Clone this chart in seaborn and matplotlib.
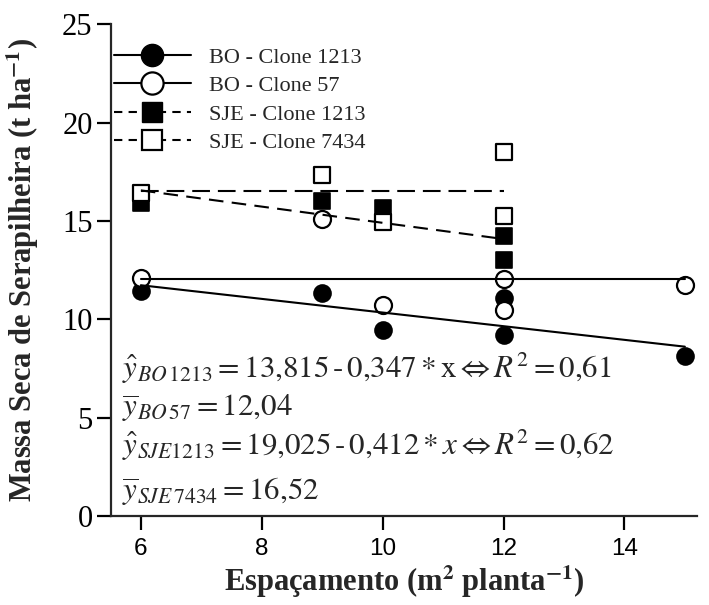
import numpy as np
import matplotlib
matplotlib.use("Agg")
import matplotlib.pyplot as plt
import seaborn as sns
from matplotlib.lines import Line2D

# Litter dry mass (t/ha) by plant spacing (m2/plant), per site and clone
spacing_bo1213 = [6, 9, 10, 12, 12, 15]
mass_bo1213 = [11.45, 11.32, 9.45, 11.07, 9.20, 8.15]

spacing_bo57 = [6, 9, 10, 12, 12, 15]
mass_bo57 = [12.08, 15.08, 10.73, 12.05, 10.47, 11.75]

spacing_sje1213 = [6, 9, 10, 12, 12]
mass_sje1213 = [15.90, 16.03, 15.64, 14.23, 13.01]

spacing_sje7434 = [6, 9, 10, 12, 12]
mass_sje7434 = [16.40, 17.34, 14.96, 18.50, 15.27]

# Fitted models
bo1213_intercept, bo1213_slope = 13.815, -0.347
bo57_mean = 12.04
sje1213_intercept, sje1213_slope = 19.025, -0.412
sje7434_mean = 16.52

legend_labels = ["BO - Clone 1213", "BO - Clone 57",
                 "SJE - Clone 1213", "SJE - Clone 7434"]
equations = [
    r"$\hat{y}_{BO\,1213} = 13{,}815\,\text{-}\,0{,}347*\mathrm{x} \Leftrightarrow R^2 = 0{,}61$",
    r"$\overline{y}_{BO\,57} = 12{,}04$",
    r"$\hat{y}_{SJE1213} = 19{,}025\,\text{-}\,0{,}412*x \Leftrightarrow R^2 = 0{,}62$",
    r"$\overline{y}_{SJE\,7434} = 16{,}52$",
]
x_ticks = [6, 8, 10, 12, 14]
y_ticks = [0, 5, 10, 15, 20, 25]

sns.set_theme(style="ticks")
plt.rcParams["font.family"] = ["Liberation Serif", "DejaVu Serif"]
plt.rcParams["mathtext.fontset"] = "stix"
plt.rcParams["axes.linewidth"] = 1.6

fig = plt.figure(figsize=(7.09, 6.05), dpi=100)
ax = fig.add_axes([0.156, 0.147, 0.827, 0.813])

# Points: filled markers first, open markers on top
sns.scatterplot(x=spacing_bo1213, y=mass_bo1213, marker="o", s=150,
                color="black", edgecolor="black", linewidth=1.2, ax=ax, zorder=2)
sns.scatterplot(x=spacing_sje1213, y=mass_sje1213, marker="s", s=125,
                color="black", edgecolor="black", linewidth=1.2, ax=ax, zorder=2)
sns.scatterplot(x=spacing_bo57, y=mass_bo57, marker="o", s=150,
                color="white", edgecolor="black", linewidth=1.6, ax=ax, zorder=2.5)
sns.scatterplot(x=spacing_sje7434, y=mass_sje7434, marker="s", s=125,
                color="white", edgecolor="black", linewidth=1.6, ax=ax, zorder=2.5)

# Fitted lines
xs_bo = np.array([6, 15])
xs_sje = np.array([6, 12])
sns.lineplot(x=xs_bo, y=bo1213_intercept + bo1213_slope * xs_bo,
             color="black", lw=1.5, ax=ax, zorder=3)
sns.lineplot(x=xs_bo, y=[bo57_mean, bo57_mean],
             color="black", lw=1.5, ax=ax, zorder=3)
sns.lineplot(x=xs_sje, y=sje1213_intercept + sje1213_slope * xs_sje,
             color="black", lw=1.5, ls=(0, (7, 4)), ax=ax, zorder=3)
sns.lineplot(x=xs_sje, y=[sje7434_mean, sje7434_mean],
             color="black", lw=1.5, ls=(0, (8.5, 3.8)), ax=ax, zorder=3)

ax.set_xlim(5.5, 15.2)
ax.set_ylim(0, 25)
ax.set_xticks(x_ticks)
ax.set_yticks(y_ticks)
ax.tick_params(axis="both", direction="out", length=10, width=1.6, colors="black")
ax.tick_params(axis="y", labelsize=22, pad=3)
ax.tick_params(axis="x", labelsize=17.5, pad=6)
for lab in ax.get_xticklabels():
    lab.set_fontfamily(["Liberation Sans", "DejaVu Sans"])
sns.despine(ax=ax)

ax.set_xlabel(r"Espaçamento (m$^\mathbf{2}$ planta$^\mathbf{-1}$)",
              fontsize=22, fontweight="bold", labelpad=2)
ax.set_ylabel(r"Massa Seca de Serapilheira (t ha$^\mathbf{-1}$)",
              fontsize=22, fontweight="bold")
ax.yaxis.set_label_coords(-0.119, 0.5)

# Legend
handles = [
    Line2D([0], [0], color="black", lw=1.5, marker="o", ms=16,
           mfc="black", mec="black"),
    Line2D([0], [0], color="black", lw=1.5, marker="o", ms=16,
           mfc="white", mec="black", mew=1.6),
    Line2D([0], [0], color="black", lw=1.5, ls=(0, (4, 3)), marker="s", ms=14,
           mfc="black", mec="black"),
    Line2D([0], [0], color="black", lw=1.5, ls=(0, (4, 3)), marker="s", ms=14,
           mfc="white", mec="black", mew=1.6),
]
ax.legend(handles, legend_labels, loc="upper left", bbox_to_anchor=(0.005, 0.953),
          frameon=False, fontsize=16, handlelength=3.5, handletextpad=0.8,
          labelspacing=0.35, borderaxespad=0, borderpad=0)

# Model equations
eq_y = [7.0, 5.05, 3.1, 0.85]
for text, yv in zip(equations, eq_y):
    ax.text(5.69, yv, text, fontsize=22.3, va="baseline", ha="left")

fig.savefig("out.png", dpi=100)
